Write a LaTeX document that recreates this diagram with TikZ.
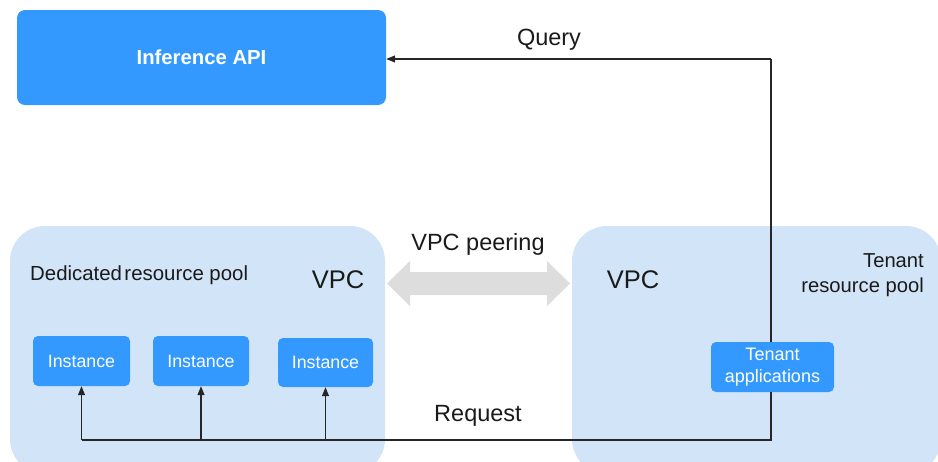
\documentclass[tikz,border=0pt]{standalone}
\usepackage{fontspec}
\setmainfont{Liberation Sans}
\usetikzlibrary{arrows.meta}
\definecolor{boxblue}{HTML}{3399FF}
\definecolor{poolblue}{HTML}{D2E5F8}
\definecolor{peergray}{HTML}{DDDDDD}
\definecolor{txt}{HTML}{1A1A1A}
\begin{document}
\begin{tikzpicture}[x=1pt,y=-1pt,
  pool/.style={fill=poolblue,draw=none,rounded corners=35pt},
  bluebox/.style={fill=boxblue,draw=none,rounded corners=5pt,text=white,align=center,inner sep=0pt},
  conn/.style={draw=black!85,line width=1.1pt},
  arr/.style={conn,-{Triangle[length=9pt,width=7pt]}},
  lbl/.style={text=txt,inner sep=0pt,font=\fontsize{23.5}{27}\selectfont}
]
\useasboundingbox (0,0) rectangle (938,461);
% pools
\path[pool] (10,226) rectangle (385,474);
\path[pool] (572,226) rectangle (941,474);
% API
\node[bluebox,minimum width=369pt,minimum height=95pt,rounded corners=8pt,font=\bfseries\fontsize{20.3}{24}\selectfont] (api) at (201.5,57.5) {Inference API};
% instances
\node[bluebox,minimum width=97pt,minimum height=50pt,font=\fontsize{17.8}{20}\selectfont] (i1) at (81.5,361) {Instance};
\node[bluebox,minimum width=96pt,minimum height=50pt,font=\fontsize{17.8}{20}\selectfont] (i2) at (201,361) {Instance};
\node[bluebox,minimum width=95pt,minimum height=49pt,font=\fontsize{17.8}{20}\selectfont] (i3) at (325.5,362.5) {Instance};
% tenant apps
\node[bluebox,minimum width=123pt,minimum height=50pt,font=\fontsize{18}{21.5}\selectfont] (ta) at (772.5,367) {Tenant\\applications};
% labels
\node[lbl,anchor=west,font=\fontsize{20.4}{24}\selectfont] (dlbl) at (30,275) {Dedicated\hspace{0.12em}resource pool};
\node[lbl,font=\fontsize{25.5}{29}\selectfont] (vpc1) at (338,280) {VPC};
\node[lbl,font=\fontsize{25.5}{29}\selectfont] (vpc2) at (633,280) {VPC};
\node[lbl,anchor=north east,align=right,font=\fontsize{20.2}{25}\selectfont] (tlbl) at (924,253) {Tenant\\resource pool};
\node[lbl] (peer) at (478,244.5) {VPC peering};
\node[lbl] (query) at (549,39.5) {Query};
\node[lbl] (req) at (478,415.5) {Request};
% peering arrow
\fill[peergray] (387,283.5) -- (410,261) -- (410,272) -- (547,272) -- (547,261) -- (570,283.5)
  -- (547,306) -- (547,295) -- (410,295) -- (410,306) -- cycle;
% connectors
\coordinate (qt) at (771,59);
\coordinate (rb) at (771,440);
\draw[conn] (ta.north -| qt) -- (qt);
\draw[arr] (qt) -- (api.east |- qt);
\draw[conn] (ta.south -| rb) -- (rb) -- (rb -| i1);
\draw[arr] (rb -| i1) -- (i1.south);
\draw[arr] (rb -| i2) -- (i2.south);
\draw[arr] (rb -| i3) -- (i3.south);
\end{tikzpicture}
\end{document}
